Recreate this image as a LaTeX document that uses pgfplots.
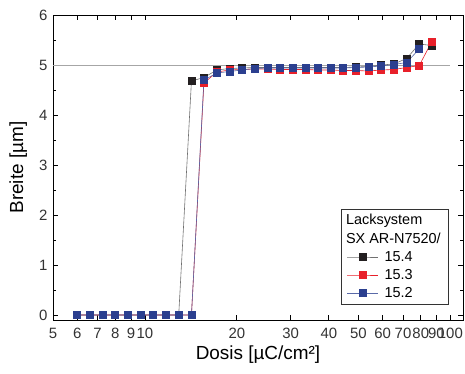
\documentclass[border=0pt]{standalone}
\usepackage{fontspec}
\setmainfont{Liberation Sans}
\usepackage{pgfplots}
\pgfplotsset{compat=1.18}
\definecolor{cblack}{HTML}{231F20}
\definecolor{cred}{HTML}{E8202A}
\definecolor{cblue}{HTML}{2B3F8F}
\definecolor{lblack}{HTML}{707070}
\definecolor{lblue}{HTML}{5A6AA8}
\begin{document}
\begin{tikzpicture}
\begin{axis}[
  scale only axis, width=410bp, height=305bp,
  xmode=log, xmin=5, xmax=110, ymin=-0.1, ymax=6,
  axis line style={line width=0.9pt},
  tick align=inside, tick style={black, line width=0.8pt},
  major tick length=5bp, minor tick length=3bp,
  xtick={5,6,7,8,9,10,20,30,40,50,60,70,80,90,100},
  xticklabels={5,6,7,8,9,10,20,30,40,50,60,70,80,90,100},
  minor xtick={},
  ytick={0,1,2,3,4,5,6}, minor ytick={0.5,1.5,2.5,3.5,4.5,5.5},
  /pgf/number format/assume math mode=true,
  ticklabel style={font=\fontsize{15}{16}\selectfont, text=black!80},
  xticklabel style={yshift=-5bp},
  yticklabel style={xshift=-2bp},
  xlabel={Dosis [µC/cm²]}, ylabel={Breite [µm]},
  label style={font=\fontsize{19}{21}\selectfont},
  xlabel style={at={(axis description cs:0.5,-0.115)}, anchor=center},
  ylabel style={at={(axis description cs:-0.085,0.5)}, anchor=center},
  legend cell align=left,
  legend style={at={(0.966,0.052)}, anchor=south east, draw=black!80, line width=0.6pt,
    font=\fontsize{14.5}{16}\selectfont, row sep=2.5bp, inner xsep=6bp, inner ysep=3bp},
  legend image code/.code={\draw[mark repeat=2,mark phase=2,#1] plot coordinates {(0cm,0cm) (0.55cm,0cm) (1.1cm,0cm)};},
]
\addplot[gray!70, line width=0.6pt, forget plot] coordinates {(5,5) (100,5)};
\addlegendimage{empty legend}\addlegendentry{\hspace*{-1.22cm}Lacksystem}
\addlegendimage{empty legend}\addlegendentry{\hspace*{-1.22cm}SX AR-N7520/}
\addplot[lblack, line width=0.6pt, mark=square*, mark size=3.5bp, mark options={solid, fill=cblack, draw=cblack}] coordinates {
(6.0,0) (6.6,0) (7.26,0) (7.99,0) (8.78,0) (9.66,0) (10.6,0) (11.7,0) (12.9,0)
(14.2,4.68) (15.6,4.75) (17.2,4.90) (18.9,4.93) (20.8,4.94) (22.9,4.95) (25.2,4.95)
(27.7,4.95) (30.5,4.95) (33.5,4.95) (36.9,4.95) (40.6,4.95) (44.6,4.95) (49.1,4.96)
(54.0,4.97) (59.4,5.00) (65.3,5.02) (71.9,5.13) (79.1,5.42) (87.0,5.39)};
\addlegendentry{\hspace*{4bp}15.4}
\addplot[cred, line width=0.6pt, mark=square*, mark size=3.5bp, mark options={solid, fill=cred, draw=cred}] coordinates {
(6.0,0) (6.6,0) (7.26,0) (7.99,0) (8.78,0) (9.66,0) (10.6,0) (11.7,0) (12.9,0) (14.2,0)
(15.6,4.64) (17.2,4.86) (18.9,4.90) (20.8,4.91) (22.9,4.92) (25.2,4.92)
(27.7,4.91) (30.5,4.91) (33.5,4.91) (36.9,4.90) (40.6,4.90) (44.6,4.89) (49.1,4.89)
(54.0,4.88) (59.4,4.90) (65.3,4.91) (71.9,4.95) (79.1,4.99) (87.0,5.47)};
\addlegendentry{\hspace*{4bp}15.3}
\addplot[lblue, line width=0.6pt, mark=square*, mark size=3.5bp, mark options={solid, fill=cblue, draw=cblue}] coordinates {
(6.0,0) (6.6,0) (7.26,0) (7.99,0) (8.78,0) (9.66,0) (10.6,0) (11.7,0) (12.9,0) (14.2,0)
(15.6,4.70) (17.2,4.84) (18.9,4.87) (20.8,4.90) (22.9,4.93) (25.2,4.94)
(27.7,4.94) (30.5,4.94) (33.5,4.94) (36.9,4.94) (40.6,4.94) (44.6,4.94) (49.1,4.95)
(54.0,4.96) (59.4,4.98) (65.3,5.01) (71.9,5.05) (79.1,5.32)};
\addlegendentry{\hspace*{4bp}15.2}
\end{axis}
\pgfresetboundingbox
\path[use as bounding box] (-53bp,-54bp) rectangle (412bp,320bp);
\end{tikzpicture}
\end{document}
